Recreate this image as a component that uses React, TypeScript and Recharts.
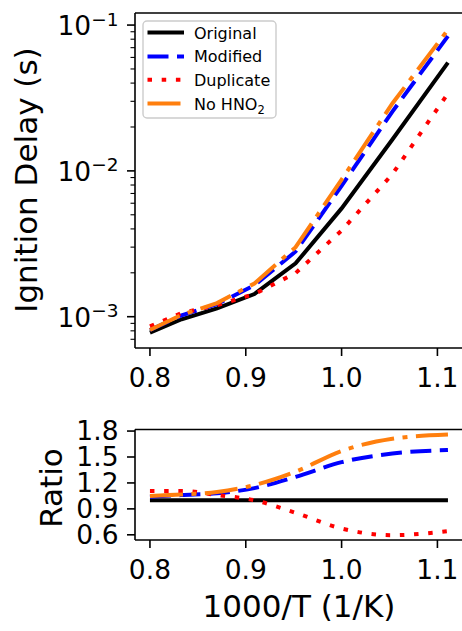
import React from 'react';
import { LineChart, Line, XAxis, YAxis, Legend, ReferenceLine } from 'recharts';

// 1000/T values (1/K)
const invTemp = [0.8, 0.833, 0.87, 0.909, 0.952, 1.0, 1.053, 1.111];

// Ignition delay (s)
const delayOriginal = [7.77e-4, 9.6e-4, 1.14e-3, 1.43e-3, 2.32e-3, 5.53e-3, 1.64e-2, 5.52e-2];
const delayModified = [8.1e-4, 1.02e-3, 1.22e-3, 1.64e-3, 2.8e-3, 7.9e-3, 2.55e-2, 8.4e-2];
const delayDuplicate = [8.6e-4, 1.06e-3, 1.2e-3, 1.43e-3, 1.99e-3, 3.9e-3, 9.5e-3, 3.4e-2];
const delayNoHNO2 = [8.1e-4, 1.03e-3, 1.24e-3, 1.69e-3, 3.0e-3, 8.7e-3, 2.9e-2, 9.3e-2];

// Ratio to original
const ratioOriginal = [1, 1, 1, 1, 1, 1, 1, 1];
const ratioModified = [1.04, 1.06, 1.08, 1.14, 1.27, 1.44, 1.54, 1.58];
const ratioDuplicate = [1.108, 1.108, 1.06, 1.0, 0.854, 0.673, 0.596, 0.642];
const ratioNoHNO2 = [1.05, 1.065, 1.096, 1.175, 1.33, 1.57, 1.71, 1.76];

// Ticks
const xTicks = [0.8, 0.9, 1.0, 1.1];
const delayMajorTicks = [0.001, 0.01, 0.1];
const delayTicks = [
  7e-4, 8e-4, 9e-4, 0.001,
  0.002, 0.003, 0.004, 0.005, 0.006, 0.007, 0.008, 0.009, 0.01,
  0.02, 0.03, 0.04, 0.05, 0.06, 0.07, 0.08, 0.09, 0.1,
];
const ratioTicks = [0.6, 0.9, 1.2, 1.5, 1.8];

const seriesNames = ['Original', 'Modified', 'Duplicate', 'No HNO2'];

const X_DOMAIN: [number, number] = [0.7844, 1.1267];
const DELAY_DOMAIN: [number, number] = [6.1e-4, 0.121];
const RATIO_DOMAIN: [number, number] = [0.54, 1.818];

const FONT = "'DejaVu Sans', 'Liberation Sans', sans-serif";
const SPINE = 1.6;

const STYLES = [
  { key: 'original', color: '#000000', dash: undefined as string | undefined },
  { key: 'modified', color: '#0000ff', dash: '21 8.5' },
  { key: 'duplicate', color: '#ff0000', dash: '4.5 9.7' },
  { key: 'nohno2', color: '#ff7f0e', dash: '33 8.5 5 8.5' },
];

const delayRows = invTemp.map((x, i) => ({
  x,
  original: delayOriginal[i],
  modified: delayModified[i],
  duplicate: delayDuplicate[i],
  nohno2: delayNoHNO2[i],
}));

const ratioRows = invTemp.map((x, i) => ({
  x,
  original: ratioOriginal[i],
  modified: ratioModified[i],
  duplicate: ratioDuplicate[i],
  nohno2: ratioNoHNO2[i],
}));

const LogTick = (props: any) => {
  const { x, y, payload } = props;
  const v = payload.value;
  const major = delayMajorTicks.includes(v);
  const len = major ? 8 : 4.5;
  const exp = Math.round(Math.log10(v));
  return (
    <g>
      <line x1={x} x2={x - len} y1={y} y2={y} stroke="#000" strokeWidth={major ? SPINE : 1.1} />
      {major && (
        <text x={x - 16.5} y={y + 10} textAnchor="end" fontSize={26.5} fontFamily={FONT} fill="#000">
          10
          <tspan dy={-9.5} fontSize={18.5}>{'\u2212' + String(-exp)}</tspan>
        </text>
      )}
    </g>
  );
};

const LegendBox = () => {
  const rows = [12.6, 36.4, 59.8, 83.6];
  return (
    <svg width={136} height={100} style={{ display: 'block' }}>
      <rect x={1} y={1} width={133} height={97} rx={4} ry={4} fill="rgba(255,255,255,0.8)" stroke="#cccccc" strokeWidth={1.4} />
      {STYLES.map((s, i) => (
        <g key={s.key}>
          <line x1={5.5} x2={42} y1={rows[i]} y2={rows[i]} stroke={s.color} strokeWidth={4} strokeDasharray={s.dash} />
          <text x={52} y={rows[i] + 6} fontSize={16} fontFamily={FONT} fill="#000">
            {i === 3 ? (
              <>
                No HNO
                <tspan dy={4} fontSize={11.5}>2</tspan>
              </>
            ) : (
              seriesNames[i]
            )}
          </text>
        </g>
      ))}
    </svg>
  );
};

const tickStyle = { fill: '#000', fontSize: 26.5, fontFamily: FONT };

export default function App() {
  return (
    <div style={{ position: 'absolute', left: 0, top: 0, width: 462, height: 631, overflow: 'hidden', background: '#fff' }}>
      <div style={{ position: 'absolute', left: 0, top: 0 }}>
        <LineChart width={470} height={400} data={delayRows} margin={{ top: 13, right: 7, bottom: 0, left: 0 }}>
          <XAxis
            dataKey="x"
            type="number"
            domain={X_DOMAIN}
            allowDataOverflow
            ticks={xTicks}
            interval={0}
            tickFormatter={(v: number) => v.toFixed(1)}
            tick={tickStyle}
            tickSize={8}
            tickMargin={12}
            height={52}
            axisLine={{ stroke: '#000', strokeWidth: SPINE }}
            tickLine={{ stroke: '#000', strokeWidth: SPINE }}
          />
          <YAxis
            type="number"
            scale="log"
            domain={DELAY_DOMAIN}
            allowDataOverflow
            ticks={delayTicks}
            interval={0}
            width={135}
            tickSize={0}
            tickMargin={0}
            tickLine={false}
            tick={<LogTick />}
            axisLine={{ stroke: '#000', strokeWidth: SPINE }}
            label={{
              content: () => (
                <text
                  x={37.3}
                  y={180}
                  transform="rotate(-90, 37.3, 180)"
                  textAnchor="middle"
                  fontSize={31}
                  fontFamily={FONT}
                  fill="#000"
                >
                  Ignition Delay (s)
                </text>
              ),
            }}
          />
          <ReferenceLine y={DELAY_DOMAIN[1]} stroke="#000" strokeWidth={SPINE} ifOverflow="extendDomain" />
          <Legend
            layout="horizontal"
            verticalAlign="middle"
            align="center"
            wrapperStyle={{ left: 142, top: 20, width: 136, height: 100 }}
            content={() => <LegendBox />}
          />
          {STYLES.map((s, i) => (
            <Line
              key={s.key}
              dataKey={s.key}
              name={seriesNames[i]}
              type="linear"
              stroke={s.color}
              strokeWidth={4}
              strokeDasharray={s.dash}
              dot={false}
              activeDot={false}
              isAnimationActive={false}
            />
          ))}
        </LineChart>
      </div>
      <div style={{ position: 'absolute', left: 0, top: 400 }}>
        <LineChart width={470} height={231} data={ratioRows} margin={{ top: 29.5, right: 7, bottom: 0, left: 0 }}>
          <XAxis
            dataKey="x"
            type="number"
            domain={X_DOMAIN}
            allowDataOverflow
            ticks={xTicks}
            interval={0}
            tickFormatter={(v: number) => v.toFixed(1)}
            tick={tickStyle}
            tickSize={8}
            tickMargin={12}
            height={91}
            axisLine={{ stroke: '#000', strokeWidth: SPINE }}
            tickLine={{ stroke: '#000', strokeWidth: SPINE }}
            label={{
              content: () => (
                <text x={299} y={217} textAnchor="middle" fontSize={31} fontFamily={FONT} fill="#000">
                  1000/T (1/K)
                </text>
              ),
            }}
          />
          <YAxis
            type="number"
            domain={RATIO_DOMAIN}
            allowDataOverflow
            ticks={ratioTicks}
            interval={0}
            width={135}
            tickSize={8}
            tickMargin={8.5}
            tickFormatter={(v: number) => v.toFixed(1)}
            tick={tickStyle}
            axisLine={{ stroke: '#000', strokeWidth: SPINE }}
            tickLine={{ stroke: '#000', strokeWidth: SPINE }}
            label={{
              content: () => (
                <text
                  x={61.5}
                  y={88}
                  transform="rotate(-90, 61.5, 88)"
                  textAnchor="middle"
                  fontSize={31}
                  fontFamily={FONT}
                  fill="#000"
                >
                  Ratio
                </text>
              ),
            }}
          />
          <ReferenceLine y={RATIO_DOMAIN[1]} stroke="#000" strokeWidth={SPINE} ifOverflow="extendDomain" />
          {STYLES.map((s, i) => (
            <Line
              key={s.key}
              dataKey={s.key}
              name={seriesNames[i]}
              type={i === 0 ? 'linear' : 'monotone'}
              stroke={s.color}
              strokeWidth={4}
              strokeDasharray={s.dash}
              dot={false}
              activeDot={false}
              isAnimationActive={false}
            />
          ))}
        </LineChart>
      </div>
    </div>
  );
}
